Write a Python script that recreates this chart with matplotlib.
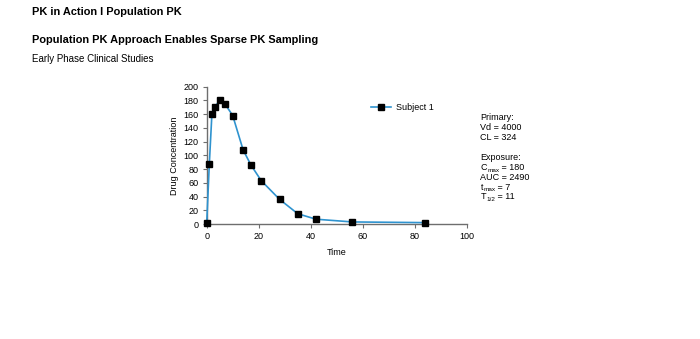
import matplotlib
matplotlib.use("Agg")
import matplotlib.pyplot as plt

plt.rcParams["font.family"] = ["Liberation Sans", "DejaVu Sans"]

# sampling times and measured concentrations for subject 1
time_points = [0, 1, 2, 3, 5, 7, 10, 14, 17, 21, 28, 35, 42, 56, 84]
concentration = [1, 87, 160, 170, 180, 175, 158, 108, 86, 63, 36, 15, 7, 3, 2]

x_ticks = [0, 20, 40, 60, 80, 100]
y_ticks = [0, 20, 40, 60, 80, 100, 120, 140, 160, 180, 200]

# (symbol, subscript, rest of line)
primary_lines = [("Primary:", "", ""), ("Vd = 4000", "", ""), ("CL = 324", "", "")]
exposure_lines = [
    ("Exposure:", "", ""),
    ("C", "max", " = 180"),
    ("AUC = 2490", "", ""),
    ("t", "max", " = 7"),
    ("T", "1/2", " = 11"),
]

LINE_BLUE = "#2f93cf"
AXIS_GREY = "#6e6e6e"
INFO_SIZE = 6.5
SUB_SIZE = 4.6

fig = plt.figure(figsize=(7.0, 3.39), dpi=100)
renderer = fig.canvas.get_renderer()

fig.text(32 / 700, 1 - 12 / 339, "PK in Action I Population PK",
         fontsize=7.9, fontweight="bold", va="center", ha="left")
fig.text(32 / 700, 1 - 40 / 339, "Population PK Approach Enables Sparse PK Sampling",
         fontsize=7.9, fontweight="bold", va="center", ha="left")
fig.text(32 / 700, 1 - 58.5 / 339, "Early Phase Clinical Studies",
         fontsize=7, va="center", ha="left")

ax = fig.add_axes([206.7 / 700, 1 - 224 / 339, 260 / 700, 137.3 / 339])
ax.plot(time_points, concentration, color=LINE_BLUE, linewidth=1.2,
        marker="s", markersize=4.5, markerfacecolor="black",
        markeredgecolor="black", label="Subject 1", clip_on=False, zorder=3)

ax.set_xlim(0, 100)
ax.set_ylim(0, 200)
ax.set_xticks(x_ticks)
ax.set_yticks(y_ticks)
ax.set_xlabel("Time", fontsize=6.5, labelpad=5)
ax.set_ylabel("Drug Concentration", fontsize=6.5, labelpad=3)

for side in ["top", "right"]:
    ax.spines[side].set_visible(False)
for side in ["left", "bottom"]:
    ax.spines[side].set_color(AXIS_GREY)
    ax.spines[side].set_linewidth(1.0)
ax.tick_params(axis="both", labelsize=6.5, colors=AXIS_GREY, labelcolor="black",
               length=3, width=0.8, pad=3)

ax.legend(loc="center left", bbox_to_anchor=(0.6, 0.85), frameon=False,
          fontsize=6.5, handlelength=2.2, handletextpad=0.6)


def info_line(x_px, y_px, head, sub, tail):
    # head text, then a smaller lowered subscript, then the rest of the line
    t = fig.text(x_px / 700, 1 - y_px / 339, head, fontsize=INFO_SIZE,
                 va="baseline", ha="left")
    if not sub:
        return
    x_px = t.get_window_extent(renderer).x1 + 0.3
    s = fig.text(x_px / 700, 1 - (y_px + 1.5) / 339, sub, fontsize=SUB_SIZE,
                 va="baseline", ha="left")
    x_px = s.get_window_extent(renderer).x1
    fig.text(x_px / 700, 1 - y_px / 339, tail, fontsize=INFO_SIZE,
             va="baseline", ha="left")


y = 120
for line in primary_lines:
    info_line(480.5, y, *line)
    y += 10
y += 10.5
for line in exposure_lines:
    info_line(480.5, y, *line)
    y += 9.7

fig.savefig("out.png", dpi=100)
